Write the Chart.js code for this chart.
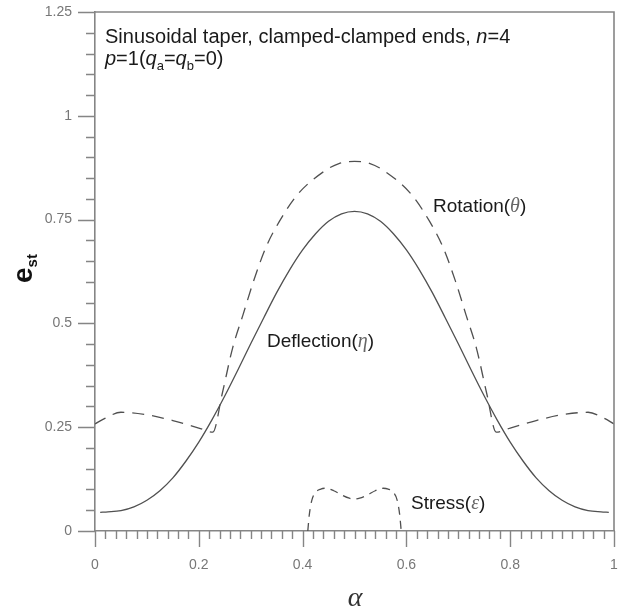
<!DOCTYPE html>
<html><head><meta charset="utf-8">
<script src="https://cdn.jsdelivr.net/npm/chart.js@4.4.1/dist/chart.umd.min.js"></script>
<style>html,body{margin:0;padding:0;background:#fff;}canvas{display:block;}</style>
</head><body>
<canvas id="c" width="621" height="609"></canvas>
<script>
// ---- data ----
const deflectionAlpha = [0.01,0.025,0.05,0.075,0.1,0.125,0.15,0.175,0.2,0.225,0.25,0.275,0.3,0.325,0.35,0.375,0.4,0.425,0.45,0.475,0.5,
  0.525,0.55,0.575,0.6,0.625,0.65,0.675,0.7,0.725,0.75,0.775,0.8,0.825,0.85,0.875,0.9,0.925,0.95,0.975,0.99];
const deflectionValues = [0.045,0.046,0.049,0.058,0.074,0.097,0.128,0.168,0.214,0.267,0.325,0.387,0.451,0.513,0.574,0.629,0.677,0.716,0.746,0.764,0.770,
  0.764,0.746,0.716,0.677,0.629,0.574,0.513,0.451,0.387,0.325,0.267,0.214,0.168,0.128,0.097,0.074,0.058,0.049,0.046,0.045];
const rotationAlpha = [0,0.02,0.05,0.1,0.15,0.2,0.227,0.245,0.265,0.285,0.305,0.33,0.355,0.39,0.44,0.47,0.5,
  0.53,0.56,0.61,0.645,0.67,0.695,0.715,0.735,0.755,0.773,0.8,0.85,0.9,0.95,0.98,1.0];
const rotationValues = [0.258,0.272,0.286,0.28,0.266,0.248,0.238,0.33,0.44,0.52,0.60,0.685,0.745,0.81,0.865,0.885,0.89,
  0.885,0.865,0.81,0.745,0.685,0.60,0.52,0.44,0.33,0.238,0.248,0.266,0.28,0.286,0.272,0.258];
const stressAlpha = [0.41,0.413,0.418,0.425,0.435,0.445,0.46,0.475,0.49,0.5,0.51,0.525,0.54,0.555,0.565,0.575,0.582,0.587,0.59];
const stressValues = [0,0.04,0.075,0.093,0.101,0.103,0.097,0.087,0.079,0.077,0.079,0.087,0.097,0.103,0.101,0.093,0.075,0.04,0];
const xTickLabels = ['0','0.2','0.4','0.6','0.8','1'];
const yTickLabels = ['0','0.25','0.5','0.75','1','1.25'];
const xMinorStep = 0.02, xMajorEvery = 10;
const yMinorStep = 0.05, yMajorEvery = 5;

function pts(xs, ys){ return xs.map((x,i)=>({x:x, y:ys[i]})); }

const AXIS = '#858585';
const SANS = 'Liberation Sans, Arial, sans-serif';
const SERIF = 'Liberation Serif, Times New Roman, serif';

function runs(ctx, x, y, parts){
  let cx = x;
  for (const p of parts){
    ctx.font = p.f;
    ctx.fillStyle = p.c || '#1a1a1a';
    ctx.fillText(p.t, cx, y + (p.dy||0));
    cx += ctx.measureText(p.t).width + (p.sp||0);
  }
}

const decor = {
  id:'decor',
  afterDraw(chart){
    const ctx = chart.ctx, a = chart.chartArea, xs = chart.scales.x, ys = chart.scales.y;
    ctx.save();
    ctx.strokeStyle = AXIS; ctx.lineWidth = 1.6;
    ctx.beginPath();
    ctx.moveTo(a.left, a.top); ctx.lineTo(a.right, a.top); ctx.lineTo(a.right, a.bottom);
    ctx.stroke();
    ctx.lineWidth = 1.4;
    ctx.beginPath();
    const nx = Math.round((xs.max - xs.min)/xMinorStep);
    for (let i=0;i<=nx;i++){
      const px = Math.round(xs.getPixelForValue(xs.min + i*xMinorStep)) + 0.5;
      const L = (i % xMajorEvery === 0) ? 16 : 8;
      ctx.moveTo(px, a.bottom); ctx.lineTo(px, a.bottom + L);
    }
    const ny = Math.round((ys.max - ys.min)/yMinorStep);
    for (let i=0;i<=ny;i++){
      const py = Math.round(ys.getPixelForValue(ys.min + i*yMinorStep)) + 0.5;
      const L = (i % yMajorEvery === 0) ? 17 : 9;
      ctx.moveTo(a.left, py); ctx.lineTo(a.left - L, py);
    }
    ctx.stroke();

    ctx.textBaseline = 'alphabetic'; ctx.textAlign = 'left';
    const N = '20px ' + SANS, I = 'italic 20px ' + SANS, S = '13px ' + SANS;
    runs(ctx, 105, 43, [{t:'Sinusoidal taper, clamped-clamped ends, ', f:N},{t:'n', f:I},{t:'=4', f:N}]);
    runs(ctx, 105, 65, [{t:'p', f:I},{t:'=1(', f:N},{t:'q', f:I},{t:'a', f:S, dy:5},{t:'=', f:N},{t:'q', f:I},{t:'b', f:S, dy:5},{t:'=0)', f:N}]);
    const L = '19px ' + SANS, G = 'italic 20px ' + SERIF;
    runs(ctx, 433, 212, [{t:'Rotation(', f:L},{t:'\u03B8', f:G, c:'#666'},{t:')', f:L}]);
    runs(ctx, 267, 347, [{t:'Deflection(', f:L},{t:'\u03B7', f:G, c:'#666'},{t:')', f:L}]);
    runs(ctx, 411, 509, [{t:'Stress(', f:L},{t:'\u03B5', f:G, c:'#666'},{t:')', f:L}]);

    // x axis title
    ctx.font = 'italic 28px ' + SERIF; ctx.fillStyle = '#333'; ctx.textAlign = 'center';
    ctx.fillText('\u03B1', 355, 606);
    // y axis title (rotated)
    ctx.save();
    ctx.translate(32, 283); ctx.rotate(-Math.PI/2);
    ctx.textAlign = 'left'; ctx.fillStyle = '#111';
    ctx.font = 'bold 28px ' + SANS; ctx.fillText('e', 0, 0);
    const w = ctx.measureText('e').width;
    ctx.font = 'bold 15px ' + SANS; ctx.fillText('st', w, 5);
    ctx.restore();
    ctx.restore();
  }
};

const tickFont = {family:SANS, size:14};
new Chart(document.getElementById('c'), {
  type:'scatter',
  data:{datasets:[
    {label:'Deflection', data:pts(deflectionAlpha, deflectionValues), showLine:true, borderColor:'#505050', borderWidth:1.3, pointRadius:0, cubicInterpolationMode:'monotone'},
    {label:'Rotation', data:pts(rotationAlpha, rotationValues), showLine:true, borderColor:'#505050', borderWidth:1.3, borderDash:[12,8], pointRadius:0, cubicInterpolationMode:'monotone'},
    {label:'Stress', data:pts(stressAlpha, stressValues), showLine:true, borderColor:'#505050', borderWidth:1.3, borderDash:[8,6], pointRadius:0, cubicInterpolationMode:'monotone'}
  ]},
  options:{
    responsive:false, animation:false, devicePixelRatio:1,
    layout:{padding:{top:12, right:7, left:0, bottom:0}},
    plugins:{legend:{display:false}, tooltip:{enabled:false}},
    scales:{
      x:{type:'linear', min:0, max:1,
        ticks:{stepSize:0.2, autoSkip:false, maxRotation:0, padding:26, color:'#777', font:tickFont, callback:(v,i)=>xTickLabels[i]},
        grid:{display:false, drawTicks:false}, border:{display:true, color:AXIS, width:1.6},
        afterFit(s){ s.height = 78; s.paddingLeft = 0; s.paddingRight = 0; }
      },
      y:{type:'linear', min:0, max:1.25,
        ticks:{stepSize:0.25, autoSkip:false, padding:23, color:'#777', font:tickFont, callback:(v,i)=>yTickLabels[i]},
        grid:{display:false, drawTicks:false}, border:{display:true, color:AXIS, width:1.6},
        afterFit(s){ s.width = 95; s.paddingTop = 0; s.paddingBottom = 0; }
      }
    }
  },
  plugins:[decor]
});
</script>
</body></html>
